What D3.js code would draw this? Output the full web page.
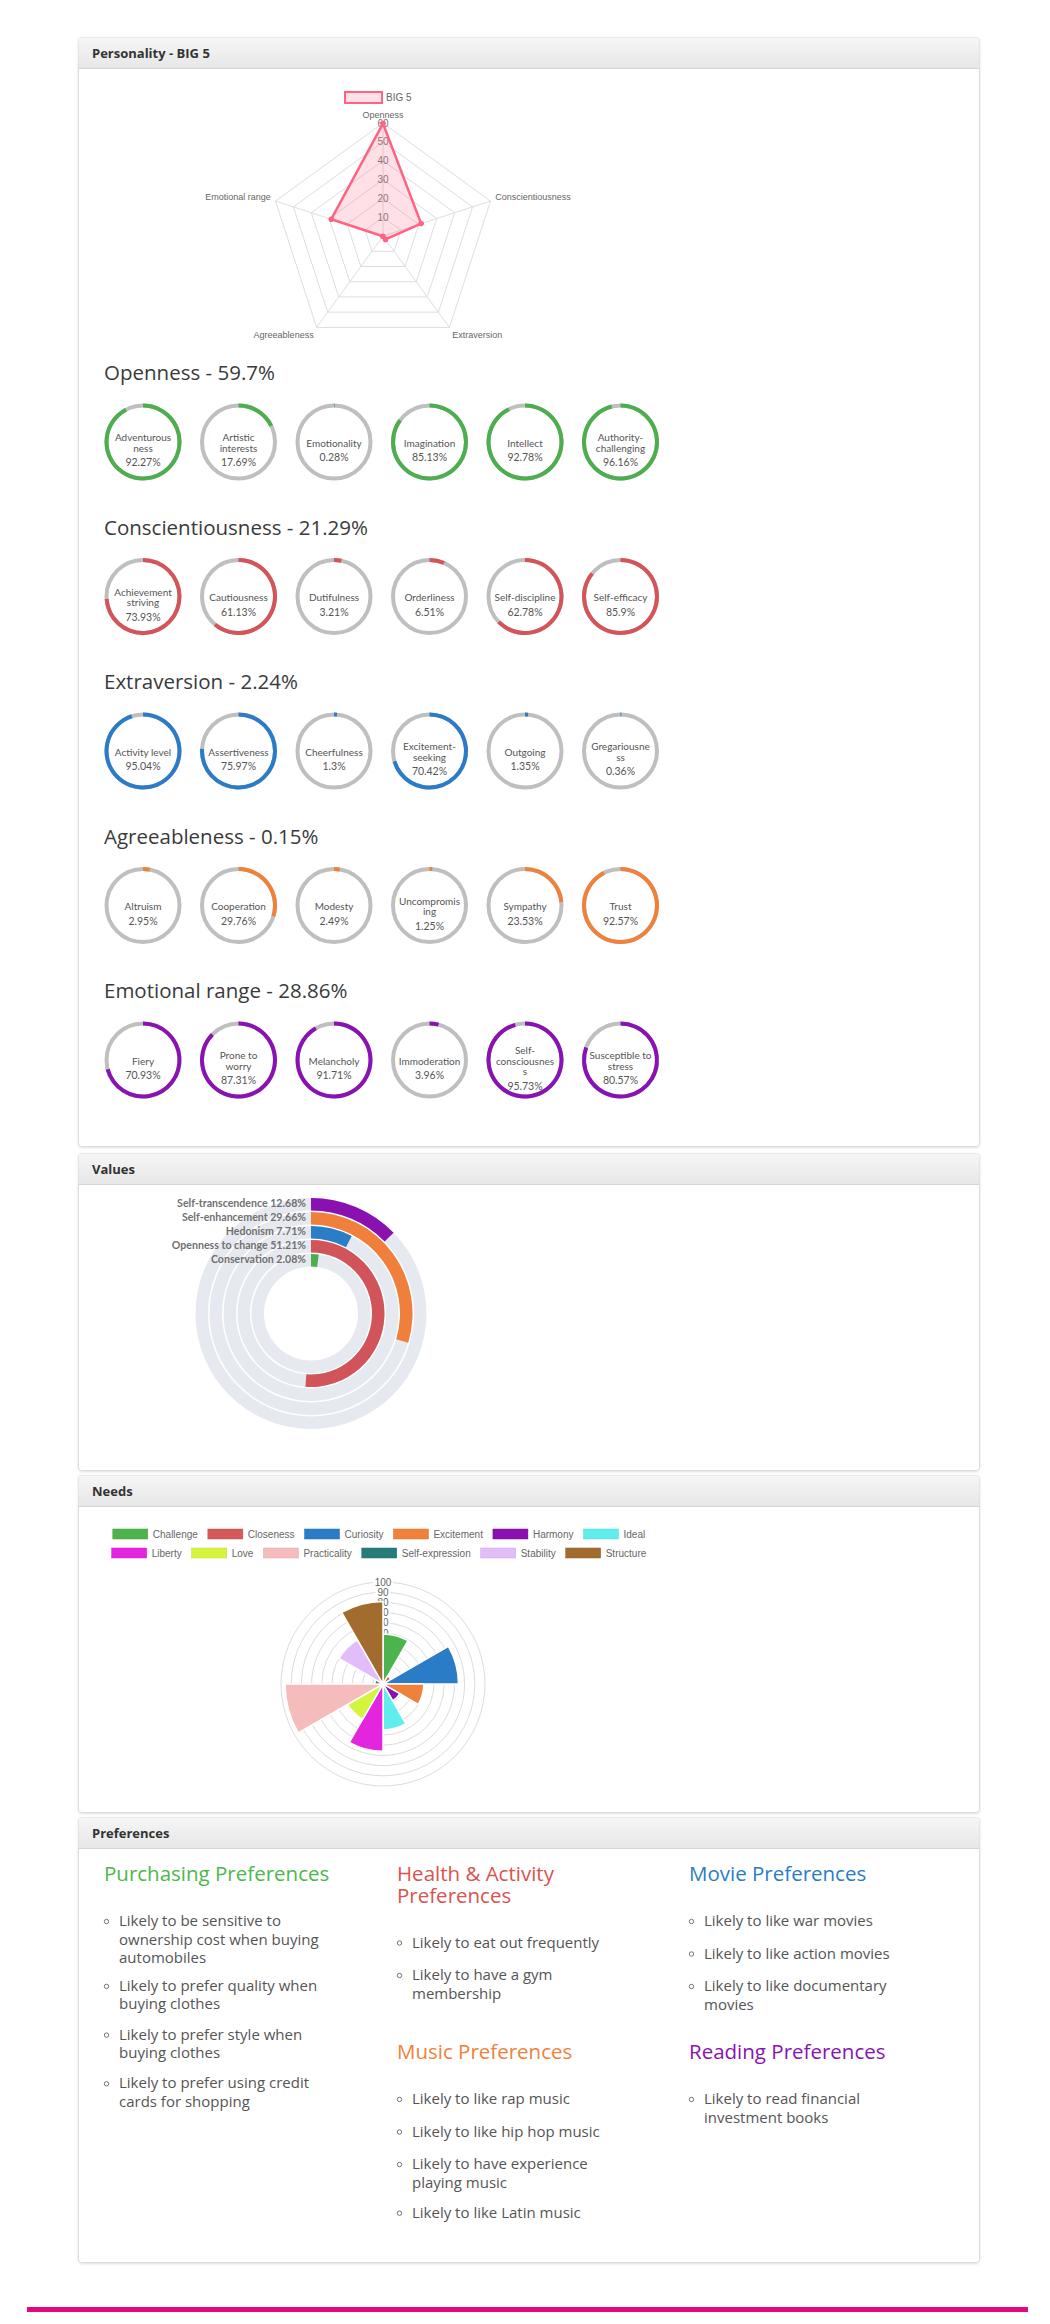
<!DOCTYPE html>
<html>
<head>
<meta charset="utf-8">
<script src="https://cdn.jsdelivr.net/npm/d3@7"></script>
<style>
  html, body { margin: 0; padding: 0; background: #fff; }
  svg { display: block; }
</style>
</head>
<body>
<div id="page"></div>
<script>
// ---------- data ----------
const big5Traits = ['Openness', 'Conscientiousness', 'Extraversion', 'Agreeableness', 'Emotional range'];
const big5Scores = [59.7, 21.29, 2.24, 0.15, 28.86];
const radarTicks = [10, 20, 30, 40, 50, 60];

// facet labels: '|' marks where the label wraps inside the ring
const opennessFacets = ['Adventurous|ness', 'Artistic|interests', 'Emotionality', 'Imagination', 'Intellect', 'Authority-|challenging'];
const opennessScores = [92.27, 17.69, 0.28, 85.13, 92.78, 96.16];
const conscFacets = ['Achievement|striving', 'Cautiousness', 'Dutifulness', 'Orderliness', 'Self-discipline', 'Self-efficacy'];
const conscScores = [73.93, 61.13, 3.21, 6.51, 62.78, 85.9];
const extraFacets = ['Activity level', 'Assertiveness', 'Cheerfulness', 'Excitement-|seeking', 'Outgoing', 'Gregariousne|ss'];
const extraScores = [95.04, 75.97, 1.3, 70.42, 1.35, 0.36];
const agreeFacets = ['Altruism', 'Cooperation', 'Modesty', 'Uncompromis|ing', 'Sympathy', 'Trust'];
const agreeScores = [2.95, 29.76, 2.49, 1.25, 23.53, 92.57];
const emoFacets = ['Fiery', 'Prone to|worry', 'Melancholy', 'Immoderation', 'Self-|consciousnes|s', 'Susceptible to|stress'];
const emoScores = [70.93, 87.31, 91.71, 3.96, 95.73, 80.57];

const valueNames = ['Self-transcendence', 'Self-enhancement', 'Hedonism', 'Openness to change', 'Conservation'];
const valueScores = [12.68, 29.66, 7.71, 51.21, 2.08];

const needNames = ['Challenge', 'Closeness', 'Curiosity', 'Excitement', 'Harmony', 'Ideal',
  'Liberty', 'Love', 'Practicality', 'Self-expression', 'Stability', 'Structure'];
const needScores = [49, 9, 74, 40, 19, 45, 66, 40, 96, 8, 50, 81];
const needTicks = [10, 20, 30, 40, 50, 60, 70, 80, 90, 100];

const purchasingPrefs = ['Likely to be sensitive to ownership cost when buying automobiles',
  'Likely to prefer quality when buying clothes', 'Likely to prefer style when buying clothes',
  'Likely to prefer using credit cards for shopping'];
const healthPrefs = ['Likely to eat out frequently', 'Likely to have a gym membership'];
const moviePrefs = ['Likely to like war movies', 'Likely to like action movies', 'Likely to like documentary movies'];
const musicPrefs = ['Likely to like rap music', 'Likely to like hip hop music',
  'Likely to have experience playing music', 'Likely to like Latin music'];
const readingPrefs = ['Likely to read financial investment books'];

// ---------- setup ----------
const W = 1050, H = 2324;
const svg = d3.select('#page').append('svg').attr('width', W).attr('height', H);
const defs = svg.append('defs');
const grad = defs.append('linearGradient').attr('id', 'hdr').attr('x1', 0).attr('y1', 0).attr('x2', 0).attr('y2', 1);
grad.append('stop').attr('offset', '0%').attr('stop-color', '#f6f6f6');
grad.append('stop').attr('offset', '100%').attr('stop-color', '#e7e7e7');
const shd = defs.append('filter').attr('id', 'shd').attr('x', '-2%').attr('y', '-2%').attr('width', '104%').attr('height', '104%');
shd.append('feDropShadow').attr('dx', 0).attr('dy', 1).attr('stdDeviation', 1).attr('flood-color', '#000').attr('flood-opacity', 0.12);

const OPEN = "'Open Sans', sans-serif", LATO = "Lato, sans-serif", ARIAL = "'Liberation Sans', Arial, sans-serif";

function panel(y0, y1, title) {
  const x0 = 78.5, w = 901, hh = 31;
  svg.append('rect').attr('x', x0).attr('y', y0).attr('width', w).attr('height', y1 - y0)
    .attr('rx', 3).attr('fill', '#fff').attr('stroke', '#dcdcdc').style('filter', 'url(#shd)');
  svg.append('path')
    .attr('d', `M${x0},${y0 + hh} V${y0 + 3} Q${x0},${y0} ${x0 + 3},${y0} H${x0 + w - 3} Q${x0 + w},${y0} ${x0 + w},${y0 + 3} V${y0 + hh} Z`)
    .attr('fill', 'url(#hdr)');
  svg.append('line').attr('x1', x0).attr('x2', x0 + w).attr('y1', y0 + hh).attr('y2', y0 + hh).attr('stroke', '#d6d6d6');
  svg.append('text').attr('x', 92).attr('y', y0 + hh / 2 + 4.5).text(title)
    .attr('font-family', OPEN).attr('font-weight', 700).attr('font-size', 13).attr('fill', '#333');
}

panel(37.5, 1146.5, 'Personality - BIG 5');
panel(1153.5, 1470.5, 'Values');
panel(1475.5, 1812.5, 'Needs');
panel(1817.5, 2262.5, 'Preferences');

// ---------- BIG 5 radar ----------
const radar = { cx: 383, cy: 236, R: 113 };
const pink = 'rgb(255,99,132)';
const rScale = d3.scaleLinear().domain([0, d3.max(radarTicks)]).range([0, radar.R]);
const ang = i => i * 2 * Math.PI / big5Traits.length;
const rpt = (i, r) => [radar.cx + r * Math.sin(ang(i)), radar.cy - r * Math.cos(ang(i))];
const rg = svg.append('g');

rg.selectAll('polygon.grid').data(radarTicks).enter().append('polygon')
  .attr('points', t => big5Traits.map((d, i) => rpt(i, rScale(t)).join(',')).join(' '))
  .attr('fill', 'none').attr('stroke', '#dedede');
rg.selectAll('line.spoke').data(big5Traits).enter().append('line')
  .attr('x1', radar.cx).attr('y1', radar.cy)
  .attr('x2', (d, i) => rpt(i, radar.R)[0]).attr('y2', (d, i) => rpt(i, radar.R)[1])
  .attr('stroke', '#dedede');
rg.selectAll('text.tick').data(radarTicks).enter().append('text')
  .attr('x', radar.cx).attr('y', t => radar.cy - rScale(t) + 3.5)
  .attr('text-anchor', 'middle').attr('font-family', ARIAL).attr('font-size', 10).attr('fill', '#777')
  .text(d => d);

rg.append('polygon')
  .attr('points', big5Scores.map((v, i) => rpt(i, rScale(v)).join(',')).join(' '))
  .attr('fill', 'rgba(255,99,132,0.2)').attr('stroke', pink).attr('stroke-width', 2.5).attr('stroke-linejoin', 'round');
rg.selectAll('circle.pt').data(big5Scores).enter().append('circle')
  .attr('cx', (v, i) => rpt(i, rScale(v))[0]).attr('cy', (v, i) => rpt(i, rScale(v))[1])
  .attr('r', 2.8).attr('fill', pink);

const labelAnchor = ['middle', 'start', 'start', 'end', 'end'];
const labelDy = [0, 0, 6.5, 6.5, 0];
rg.selectAll('text.plabel').data(big5Traits).enter().append('text')
  .attr('x', (d, i) => rpt(i, radar.R + 5)[0])
  .attr('y', (d, i) => rpt(i, radar.R + 5)[1] + labelDy[i])
  .attr('text-anchor', (d, i) => labelAnchor[i])
  .attr('font-family', ARIAL).attr('font-size', 9).attr('fill', '#666')
  .text(d => d);

// legend
rg.append('rect').attr('x', 345).attr('y', 92).attr('width', 37).attr('height', 11)
  .attr('fill', 'rgba(255,99,132,0.2)').attr('stroke', pink).attr('stroke-width', 2);
rg.append('text').attr('x', 386).attr('y', 101).attr('font-family', ARIAL).attr('font-size', 10)
  .attr('fill', '#666').text('BIG 5');

// ---------- facet rings ----------
const sections = [
  { names: opennessFacets, scores: opennessScores, color: '#4cae4c' },
  { names: conscFacets, scores: conscScores, color: '#d5545a' },
  { names: extraFacets, scores: extraScores, color: '#2a7cc8' },
  { names: agreeFacets, scores: agreeScores, color: '#f0813a' },
  { names: emoFacets, scores: emoScores, color: '#8a12b2' }
];
const ringX = d3.scalePoint().domain(d3.range(6)).range([143, 620.5]);
const ringArc = d3.arc().innerRadius(34.5).outerRadius(38.5).startAngle(0);

sections.forEach((s, k) => {
  const cy = 442 + 154.5 * k;
  svg.append('text').attr('x', 104).attr('y', cy - 62)
    .attr('font-family', OPEN).attr('font-size', 20.5).attr('fill', '#3a3a3a')
    .text(`${big5Traits[k]} - ${big5Scores[k]}%`);

  const g = svg.append('g');
  const cell = g.selectAll('g.cell').data(s.scores).enter().append('g')
    .attr('transform', (d, i) => `translate(${ringX(i)},${cy})`);
  cell.append('circle').attr('r', 36.5).attr('fill', 'none').attr('stroke', '#bfbfbf').attr('stroke-width', 4);
  cell.append('path').attr('d', v => ringArc({ endAngle: 2 * Math.PI * v / 100 })).attr('fill', s.color);
  cell.each(function (v, i) {
    const lines = s.names[i].split('|');
    const n = lines.length;
    const t = d3.select(this);
    const first = 1 - 5.25 * (n - 1);
    lines.forEach((ln, j) => {
      t.append('text').attr('y', first + 10.5 * j + 3.5).attr('text-anchor', 'middle')
        .attr('font-family', LATO).attr('font-size', 10).attr('fill', '#555').text(ln);
    });
    t.append('text').attr('y', first + 10.5 * (n - 1) + 14.5 + 3.5).attr('text-anchor', 'middle')
      .attr('font-family', LATO).attr('font-size', 10.5).attr('fill', '#555').text(v + '%');
  });
});

// ---------- Values ----------
const vc = { cx: 311, cy: 1313.5 };
const valueColors = ['#8a10b0', '#ef7f3b', '#2a7ec7', '#d0545a', '#4cae4c'];
const vg = svg.append('g').attr('transform', `translate(${vc.cx},${vc.cy})`);
valueScores.forEach((v, i) => {
  const outer = 115.5 - 14 * i, inner = outer - 12.5;
  const a = d3.arc().innerRadius(inner).outerRadius(outer).startAngle(0);
  vg.append('path').attr('d', a({ endAngle: 2 * Math.PI })).attr('fill', '#e6e9f0');
  vg.append('path').attr('d', a({ endAngle: 2 * Math.PI * v / 100 })).attr('fill', valueColors[i]);
  vg.append('text').attr('x', -5).attr('y', -(outer + inner) / 2 + 3)
    .attr('text-anchor', 'end').attr('font-family', LATO).attr('font-weight', 700)
    .attr('font-size', 10.6).attr('fill', '#707070')
    .text(`${valueNames[i]} ${v}%`);
});

// ---------- Needs polar area ----------
const nc = { cx: 383, cy: 1684 };
const needColors = ['#4db34d', '#d45a5a', '#2a7cc7', '#ef813b', '#8b10b0', '#62eded',
  '#e524e0', '#d4f53c', '#f5bcbc', '#267b7b', '#e2bdf9', '#a36c2f'];
const nScale = d3.scaleLinear().domain([0, d3.max(needTicks)]).range([0, 102]);
const ng = svg.append('g').attr('transform', `translate(${nc.cx},${nc.cy})`);
ng.selectAll('circle.ring').data(needTicks).enter().append('circle')
  .attr('r', t => nScale(t)).attr('fill', 'none').attr('stroke', '#dcdcdc');
const tickG = ng.selectAll('g.tick').data(needTicks).enter().append('g')
  .attr('transform', t => `translate(0,${-nScale(t)})`);
tickG.append('text').attr('y', 3.5).attr('text-anchor', 'middle')
  .attr('font-family', ARIAL).attr('font-size', 10).attr('fill', '#666').text(t => t)
  .each(function () {
    const w = this.getComputedTextLength();
    d3.select(this.parentNode).insert('rect', 'text').attr('x', -w / 2 - 2).attr('y', -5.5)
      .attr('width', w + 4).attr('height', 11).attr('fill', 'rgba(255,255,255,0.85)');
  });
const slice = 2 * Math.PI / needNames.length;
const wedge = d3.arc().innerRadius(0);
ng.selectAll('path.wedge').data(needScores).enter().append('path')
  .attr('d', (v, i) => wedge({ outerRadius: nScale(v), startAngle: i * slice, endAngle: (i + 1) * slice }))
  .attr('fill', (v, i) => needColors[i]).attr('stroke', '#fff').attr('stroke-width', 1.5);

// legend (two centred rows, chart.js style)
const lg = svg.append('g');
const legendRows = [needNames.slice(0, 6), needNames.slice(6)];
legendRows.forEach((row, r) => {
  const y = 1534 + 19 * r;
  const items = row.map(name => {
    const t = lg.append('text').attr('font-family', ARIAL).attr('font-size', 10).attr('fill', '#666').text(name);
    return { name, t, w: t.node().getComputedTextLength() };
  });
  const total = d3.sum(items, d => 35 + 5 + d.w) + 10 * (items.length - 1);
  let x = 379 - total / 2;
  items.forEach(d => {
    const c = needColors[needNames.indexOf(d.name)];
    lg.append('rect').attr('x', x).attr('y', y - 5).attr('width', 35).attr('height', 10)
      .attr('fill', c).attr('stroke', d3.color(c).darker(0.3)).attr('stroke-width', 0.5);
    d.t.attr('x', x + 40).attr('y', y + 3.5);
    x += 35 + 5 + d.w + 10;
  });
});

// ---------- Preferences ----------
function wrapLines(text, width, size) {
  const probe = svg.append('text').attr('font-family', OPEN).attr('font-size', size);
  const words = text.split(' ');
  const lines = [];
  let cur = '';
  words.forEach(w => {
    const test = cur ? cur + ' ' + w : w;
    probe.text(test);
    if (probe.node().getComputedTextLength() > width && cur) { lines.push(cur); cur = w; }
    else cur = test;
  });
  lines.push(cur);
  probe.remove();
  return lines;
}

const prefGroups = [
  { title: 'Purchasing Preferences', color: '#4cb84c', items: purchasingPrefs, x: 104, y: 1881 },
  { title: 'Health & Activity Preferences', color: '#d9534f', items: healthPrefs, x: 397, y: 1881 },
  { title: 'Movie Preferences', color: '#2a7cc8', items: moviePrefs, x: 689, y: 1881 },
  { title: 'Music Preferences', color: '#f0813a', items: musicPrefs, x: 397, y: 2059 },
  { title: 'Reading Preferences', color: '#8a12b2', items: readingPrefs, x: 689, y: 2059 }
];
prefGroups.forEach(p => {
  const g = svg.append('g');
  const head = wrapLines(p.title, 240, 20.5);
  head.forEach((ln, j) => g.append('text').attr('x', p.x).attr('y', p.y + 21.5 * j)
    .attr('font-family', OPEN).attr('font-size', 20.5).attr('fill', p.color).text(ln));
  let y = p.y + 21.5 * (head.length - 1) + 45;
  p.items.forEach(item => {
    const lines = wrapLines(item, 224, 15);
    g.append('circle').attr('cx', p.x + 2.5).attr('cy', y - 4.5).attr('r', 2.2)
      .attr('fill', 'none').attr('stroke', '#666').attr('stroke-width', 0.9);
    lines.forEach((ln, j) => g.append('text').attr('x', p.x + 15).attr('y', y + 18.5 * j)
      .attr('font-family', OPEN).attr('font-size', 15).attr('fill', '#555').text(ln));
    y += 32.5 + 16.2 * (lines.length - 1);
  });
});

// footer rule
svg.append('rect').attr('x', 27).attr('y', 2307).attr('width', 1001).attr('height', 5).attr('fill', '#e2097e');
</script>
</body>
</html>
